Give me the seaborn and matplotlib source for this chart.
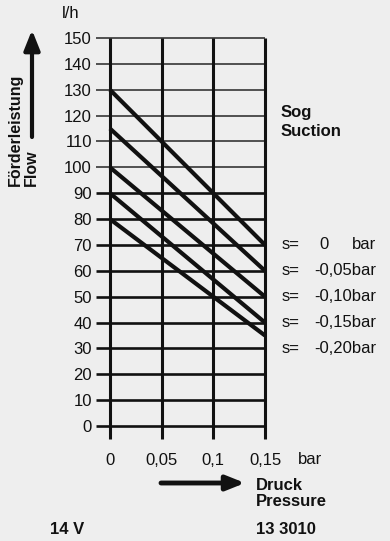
import numpy as np
import pandas as pd
import matplotlib
matplotlib.use("Agg")
import matplotlib.pyplot as plt
import seaborn as sns

# values
pressure = [0.0, 0.15]
suction = ["0", "-0,05", "-0,10", "-0,15", "-0,20"]
flow_at_0 = [130, 115, 100, 90, 80]
flow_at_015 = [70, 60, 50, 40, 35]
legend_rows = [70, 60, 50, 40, 30]
x_ticks = [0, 0.05, 0.1, 0.15]
x_labels = ["0", "0,05", "0,1", "0,15"]
y_ticks = list(range(0, 151, 10))

rows = []
for s, a, b in zip(suction, flow_at_0, flow_at_015):
    rows.append({"suction": s, "pressure": pressure[0], "flow": a})
    rows.append({"suction": s, "pressure": pressure[1], "flow": b})
df = pd.DataFrame(rows)

sns.set_theme(style="white")
plt.rcParams["font.family"] = ["Liberation Sans", "DejaVu Sans"]
bg = "#eeeeee"
ink = "#111111"
fs = 12

W, H = 390, 541
fig = plt.figure(figsize=(W / 100, H / 100), dpi=100, facecolor=bg)


def fx(x):
    return x / W


def fy(y):
    return 1 - y / H


# axes placed in pixels: left 96, right 265, top 38 (y=150), bottom 439 (y=-5)
ax = fig.add_axes([fx(96), fy(439), (265 - 96) / W, (439 - 38) / H])
ax.set_facecolor("none")
ax.set_xlim(-0.0135, 0.15)
ax.set_ylim(-5, 150)
for sp in ax.spines.values():
    sp.set_visible(False)

# grid
for y in y_ticks:
    thin = y >= 100
    ax.hlines(y, -0.0135, 0.15, color="#444444" if thin else ink,
              lw=1.3 if thin else 1.9, clip_on=False, zorder=1)
ax.vlines(x_ticks, -5, 150, color=ink, lw=2.2, clip_on=False, zorder=1)

sns.lineplot(data=df, x="pressure", y="flow", units="suction", estimator=None,
             color=ink, lw=3, ax=ax, legend=False, zorder=3)
for l in ax.lines:
    l.set_clip_on(False)
    l.set_solid_capstyle("butt")

ax.set_xticks(x_ticks)
ax.set_xticklabels(x_labels)
ax.set_yticks(y_ticks)
ax.tick_params(axis="both", length=0, labelsize=fs, colors=ink)
ax.tick_params(axis="y", pad=3)
ax.tick_params(axis="x", pad=10)
ax.set_xlabel("")
ax.set_ylabel("")

# legend rows next to the line ends
for s, yv in zip(suction, legend_rows):
    yf = ax.transData.transform((0, yv))[1] / H
    fig.text(fx(282), yf, "s=", fontsize=fs, color=ink, va="center")
    if s == "0":
        fig.text(fx(319), yf, "0", fontsize=fs, color=ink, va="center")
        fig.text(fx(352), yf, "bar", fontsize=fs, color=ink, va="center")
    else:
        fig.text(fx(314), yf, s + "bar", fontsize=fs, color=ink, va="center")

fig.text(fx(281), fy(113), "Sog", fontsize=fs, fontweight="bold", color=ink, va="center")
fig.text(fx(281), fy(132), "Suction", fontsize=fs, fontweight="bold", color=ink, va="center")

fig.text(fx(71), fy(14), "l/h", fontsize=fs, color=ink, ha="center", va="center")
fig.text(fx(298), fy(459), "bar", fontsize=fs, color=ink, va="center")

fig.text(fx(15), fy(186), "Förderleistung", fontsize=11.5, fontweight="bold",
         color=ink, rotation=90, ha="center", va="bottom")
fig.text(fx(31), fy(186), "Flow", fontsize=11.5, fontweight="bold",
         color=ink, rotation=90, ha="center", va="bottom")

fig.text(fx(256), fy(485), "Druck", fontsize=fs, fontweight="bold", color=ink, va="center")
fig.text(fx(256), fy(502), "Pressure", fontsize=fs, fontweight="bold", color=ink, va="center")
fig.text(fx(50), fy(530), "14 V", fontsize=fs, fontweight="bold", color=ink, va="center")
fig.text(fx(256), fy(530), "13 3010", fontsize=fs, fontweight="bold", color=ink, va="center")

# arrows
ax.annotate("", xy=(32, H - 30), xytext=(32, H - 137), xycoords="figure pixels",
            textcoords="figure pixels",
            arrowprops=dict(arrowstyle="-|>,head_length=0.6,head_width=0.24",
                            mutation_scale=20, lw=3, color=ink, shrinkA=0, shrinkB=0))
ax.annotate("", xy=(245, H - 483), xytext=(161, H - 483), xycoords="figure pixels",
            textcoords="figure pixels",
            arrowprops=dict(arrowstyle="-|>,head_length=0.55,head_width=0.22",
                            mutation_scale=20, lw=3.5, color=ink, shrinkA=0, shrinkB=0))

fig.savefig("out.png", dpi=100, facecolor=bg)
